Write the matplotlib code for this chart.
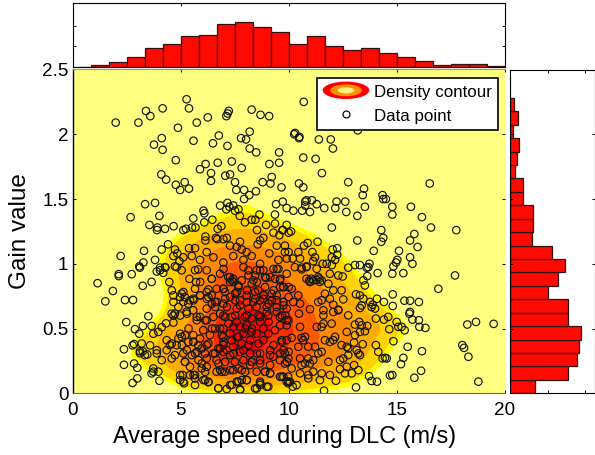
# plot.py
# speed / gain scatter with density contour and marginal histograms

import numpy as np
import matplotlib
matplotlib.use('Agg')
import matplotlib.pyplot as plt
from matplotlib.colors import ListedColormap, BoundaryNorm
from matplotlib.legend_handler import HandlerBase
from matplotlib.lines import Line2D
from matplotlib.patches import Ellipse

plt.rcParams['font.family'] = ['Liberation Sans', 'DejaVu Sans']

# -- points, by region (speed, gain)
points_top = [(2.0,2.09),(3.05,2.09),(3.4,2.18),(3.6,2.14),(4.17,2.2),(5.28,2.27),(5.39,2.2),(4.88,2.05),(5.75,2.09),
    (6.26,2.13),(7.23,2.18),(7.18,2.16),(7.12,2.14),(8.29,2.19),(8.7,2.15),(9.1,2.14),(10.7,2.25),(6.77,1.99),(8.2,2.02),
    (10.3,2.01),(10.5,1.98),(4.13,1.97),(5.6,1.95),(6.5,1.93),(7.8,1.97),(8.03,1.96),(11.4,1.96),(13.2,2.03),(11.95,1.96)]

points_upper_left = [(3.77,1.92),(4.17,1.88),(7.17,1.91),(8.2,1.89),(8.5,1.86),(9.56,1.86),(4.78,1.8),(6.16,1.77),(5.9,1.73),
    (6.72,1.78),(7.37,1.79),(7.83,1.74),(9.11,1.77),(9.56,1.78),(4.11,1.69),(4.33,1.65),(4.78,1.61),(5.19,1.63),(4.98,1.57),
    (5.39,1.58),(6.41,1.7),(6.41,1.64),(7.07,1.68),(7.29,1.69),(7.52,1.63),(7.58,1.57),(7.94,1.57),(8.18,1.53),(8.49,1.56),
    (7.94,1.5),(8.8,1.63),(9.16,1.62),(9.22,1.67),(9.67,1.59),(3.36,1.46),(3.82,1.47),(2.69,1.36),(4.02,1.37),(3.56,1.3),
    (3.93,1.28),(3.91,1.26),(4.28,1.27),(4.68,1.29),(6.06,1.41),(6.1,1.39),(5.59,1.35),(6.1,1.32),(6.47,1.34),(6.83,1.45),
    (7.17,1.47),(7.12,1.42),(7.44,1.45),(7.26,1.44),(7.68,1.42),(7.52,1.41),(7.74,1.37),(7.98,1.32),(8.65,1.38),(8.29,1.34),
    (8.46,1.34),(9.42,1.46),(9.73,1.48),(9.91,1.43),(9.37,1.38),(8.96,1.3),(9.37,1.31),(8.54,1.26),(9.3,1.24),(9.73,1.26),
    (10.0,1.24),(9.57,1.22),(5.25,1.27),(5.13,1.26),(5.53,1.28),(5.69,1.28),(6.72,1.27),(6.89,1.29),(6.15,1.21),(6.15,1.18),
    (6.64,1.2),(6.7,1.19),(6.98,1.19),(7.14,1.2),(7.75,1.17),(8.83,1.2),(8.68,1.18),(8.57,1.15),(4.42,1.15),(4.13,1.11),
    (3.31,1.1),(2.23,1.06),(3.82,1.03),(3.09,0.98),(3.28,1.01),(4.74,1.11),(4.85,1.08),(4.67,1.06),(5.13,1.05),(4.95,1.02),
    (5.39,1.12),(5.67,1.12),(5.52,1.06),(5.9,1.03),(6.21,1.09),(6.52,1.05),(6.98,1.01),(7.44,1.06),(7.83,1.11),(8.06,1.09),
    (8.29,1.06),(7.91,1.03),(8.68,1.0),(9.11,1.08),(9.45,1.14),(9.53,1.03),(10.0,1.09),(9.83,1.14),(7.29,1.14),(7.6,1.13),
    (4.05,0.97),(4.3,0.97),(4.74,0.98)]

points_upper_right = [(10.26,2.0),(10.48,1.97),(12.05,1.89),(10.68,1.82),(11.25,1.81),(11.54,1.7),(10.48,1.62),(10.68,1.59),
    (12.76,1.63),(13.49,1.58),(16.53,1.62),(13.43,1.53),(14.35,1.53),(14.38,1.5),(14.5,1.5),(10.22,1.41),(10.63,1.41),(10.99,1.4),
    (10.83,1.49),(10.77,1.48),(10.77,1.45),(11.08,1.49),(11.3,1.46),(11.65,1.43),(12.22,1.48),(12.16,1.43),(12.62,1.48),(12.67,1.4),
    (13.18,1.37),(13.53,1.44),(14.8,1.44),(14.8,1.38),(15.66,1.44),(16.17,1.36),(16.59,1.28),(17.76,1.26),(12.0,1.28),(14.29,1.26),
    (14.38,1.2),(14.29,1.17),(15.82,1.23),(15.62,1.18),(15.97,1.13),(13.18,1.18),(13.94,1.1),(15.11,1.1),(15.62,1.05),(15.73,1.0),
    (15.03,1.03),(14.97,1.01),(14.85,0.98),(11.34,1.17),(10.88,1.16),(10.71,1.14),(9.91,1.3),(9.72,1.26),(10.11,1.25),(12.25,1.12),
    (12.04,1.11),(12.25,1.07),(12.0,1.05),(12.15,1.03),(11.58,1.0),(11.76,1.0),(12.0,0.99),(11.1,1.09),(11.22,1.05),(11.14,1.02),
    (10.45,1.09),(10.53,1.04),(10.19,1.04),(9.83,1.09),(9.91,1.04),(12.76,0.97),(13.07,0.99),(13.3,0.99),(13.74,1.0),(13.61,0.97),
    (10.83,0.98),(10.6,0.97)]

points_lower_left = [(1.16,0.85),(1.87,0.79),(1.52,0.71),(2.43,0.72),(2.8,0.72),(2.14,0.92),(2.14,0.905),(2.74,0.92),(3.12,0.97),
    (3.25,0.83),(3.66,0.86),(2.49,0.55),(3.51,0.595),(2.89,0.495),(3.09,0.46),(3.26,0.52),(2.38,0.34),(2.78,0.37),(2.85,0.38),
    (3.2,0.385),(2.38,0.22),(2.85,0.23),(3.0,0.197),(3.0,0.115),(2.78,0.08),(3.12,0.31),(3.25,0.325),(3.35,0.295),(3.46,0.3),
    (3.12,0.325),(3.59,0.37),(3.74,0.46),(3.97,0.474),(3.66,0.52),(4.13,0.51),(4.33,0.54),(4.67,0.546),(4.74,0.615),(4.59,0.615),
    (4.98,0.6),(5.28,0.63),(4.9,0.666),(4.67,0.705),(4.67,0.756),(4.59,0.795),(5.05,0.77),(4.98,0.743),(5.2,0.743),(5.44,0.718),
    (5.36,0.692),(5.59,0.73),(5.13,0.782),(4.48,0.859),(3.9,0.94),(4.05,0.95),(4.2,0.93),(4.28,0.974),(4.82,0.974),(5.05,0.95),
    (5.67,0.95),(5.82,0.957),(6.21,0.95),(5.41,0.884),(5.72,0.859),(5.67,0.807),(6.29,0.802),(6.67,0.807),(5.9,0.756),(6.21,0.73),
    (6.44,0.756),(6.44,0.884),(5.59,0.641),(5.9,0.59),(5.75,0.564),(6.21,0.564),(6.52,0.59),(6.6,0.705),(6.6,0.666),(6.21,0.654),
    (4.98,0.46),(5.05,0.436),(4.9,0.423),(4.36,0.41),(4.51,0.372),(4.59,0.384),(4.82,0.372),(5.36,0.397),(5.59,0.397),(5.9,0.423),
    (6.21,0.372),(6.52,0.308),(6.75,0.346),(5.59,0.449),(5.82,0.372),(6.6,0.5),(6.36,0.449),(6.05,0.487),(3.9,0.308),(4.13,0.256),
    (4.59,0.269),(5.2,0.243),(5.75,0.32),(6.13,0.308),(5.52,0.295),(5.13,0.308),(4.74,0.295),(4.36,0.333),(3.9,0.333),(3.74,0.192),
    (3.97,0.167),(3.66,0.154),(3.74,0.167),(4.02,0.097),(4.98,0.102),(5.13,0.09),(5.16,0.077),(5.67,0.141),(5.67,0.115),(5.44,0.141),
    (5.67,0.064),(6.06,0.102),(6.29,0.085),(4.98,0.141),(6.21,0.205),(5.98,0.23),(6.67,0.167),(4.67,0.6),(5.21,0.449),(5.06,0.372),
    (5.6,0.397),(5.29,0.333),(5.67,0.308),(5.98,0.346),(6.29,0.384),(6.21,0.269),(5.83,0.256),(5.21,0.243),(5.44,0.205),(5.98,0.192),
    (6.14,0.166),(5.1,0.141),(5.6,0.141),(6.14,0.102),(6.29,0.09),(5.91,0.859),(6.45,0.884),(6.21,0.782),(6.29,0.743),(6.45,0.692),
    (6.14,0.564),(5.75,0.59),(5.29,0.615),(5.13,0.705),(5.6,0.718),(5.91,0.756),(6.45,0.5),(5.37,0.5)]

points_centre = [(6.83,0.923),(7.21,0.897),(7.44,0.884),(7.29,0.859),(7.68,0.82),(7.83,0.872),(8.14,0.91),(8.52,0.95),(8.83,0.95),
    (8.91,0.897),(9.37,0.884),(9.6,0.872),(9.91,0.923),(9.3,0.96),(9.53,0.96),(8.29,0.846),(8.6,0.795),(8.91,0.82),(9.3,0.795),
    (9.45,0.756),(9.76,0.82),(10.0,0.743),(9.76,0.705),(9.22,0.718),(8.83,0.73),(8.45,0.73),(8.06,0.756),(7.52,0.77),(7.06,0.782),
    (6.98,0.807),(7.29,0.743),(7.75,0.718),(6.98,0.692),(7.14,0.666),(7.6,0.654),(8.14,0.654),(8.52,0.666),(8.99,0.666),(9.45,0.666),
    (9.91,0.654),(6.83,0.615),(6.98,0.6),(7.37,0.59),(7.98,0.59),(8.29,0.577),(8.68,0.59),(9.06,0.6),(9.6,0.59),(9.91,0.564),
    (6.98,0.372),(6.98,0.436),(6.98,0.5),(7.29,0.461),(7.44,0.513),(7.6,0.436),(7.75,0.513),(7.91,0.461),(8.06,0.525),(8.29,0.474),
    (8.52,0.461),(8.83,0.5),(9.06,0.461),(9.37,0.487),(9.68,0.41),(9.91,0.41),(9.76,0.333),(10.0,0.32),(9.3,0.372),(8.83,0.41),
    (8.6,0.384),(8.22,0.41),(7.83,0.384),(7.44,0.359),(7.14,0.333),(7.29,0.295),(7.75,0.32),(8.22,0.308),(8.68,0.308),(9.14,0.295),
    (9.6,0.256),(9.14,0.218),(8.68,0.256),(8.29,0.243),(7.91,0.256),(7.52,0.243),(7.06,0.243),(6.67,0.256),(6.83,0.179),(7.06,0.167),
    (7.44,0.179),(7.83,0.179),(8.22,0.218),(8.52,0.167),(8.91,0.167),(9.14,0.154),(9.6,0.128),(9.98,0.128),(9.98,0.077),(9.06,0.051),
    (8.68,0.09),(8.68,0.064),(8.45,0.038),(8.06,0.102),(7.83,0.102),(7.6,0.09),(7.37,0.064),(7.75,0.031),(7.14,0.033),(6.75,0.038),
    (6.98,0.32),(6.99,0.96),(7.37,0.872),(7.68,0.833),(7.29,0.897),(7.45,0.859),(8.37,0.872),(8.53,0.859),(8.45,0.91),(8.96,0.89),
    (9.15,0.897),(9.61,0.884),(7.91,0.974),(8.14,0.949),(8.68,0.949),(9.45,0.961),(10.0,0.82),(9.61,0.82),(9.22,0.769),(8.84,0.756),
    (8.45,0.782),(8.07,0.795),(7.6,0.782),(6.99,0.807),(6.68,0.705),(7.06,0.73),(7.53,0.718),(7.76,0.679),(8.07,0.705),(8.37,0.705),
    (8.68,0.718),(9.07,0.692),(9.45,0.718),(9.76,0.679),(9.84,0.602),(9.45,0.628),(8.99,0.628),(8.61,0.602),(8.07,0.602),(7.53,0.602),
    (7.06,0.59),(7.99,0.5),(8.3,0.5),(8.68,0.551),(9.07,0.551),(9.61,0.525),(7.6,0.551),(7.22,0.538),(6.83,0.5),(6.6,0.308),
    (6.83,0.346),(6.99,0.397),(6.91,0.449),(7.37,0.41),(7.68,0.436),(8.14,0.372),(7.91,0.333),(7.45,0.308),(6.75,0.23),(6.91,0.166),
    (7.29,0.179),(7.68,0.192),(7.99,0.166),(8.3,0.243),(8.68,0.23),(8.91,0.166),(9.15,0.154),(8.53,0.308),(9.15,0.333),(9.3,0.282),
    (9.61,0.308),(9.69,0.397),(9.92,0.243),(9.76,0.128),(10.0,0.09),(8.07,0.102),(7.68,0.09),(7.29,0.064),(6.75,0.038),(7.76,0.025),
    (8.53,0.038),(8.68,0.077),(8.99,0.051)]

points_lower_right = [(14.12,0.928),(14.8,0.923),(15.31,0.928),(17.7,0.91),(16.93,0.807),(14.82,0.764),(15.36,0.715),(15.62,0.715),
    (16.03,0.705),(15.62,0.628),(15.59,0.615),(15.73,0.569),(16.03,0.564),(16.05,0.513),(16.33,0.505),(15.37,0.487),(15.23,0.513),
    (15.08,0.513),(15.0,0.551),(14.66,0.495),(14.61,0.59),(14.41,0.569),(14.04,0.577),(14.82,0.674),(14.41,0.705),(14.09,0.73),
    (18.27,0.531),(18.67,0.551),(19.49,0.536),(14.85,0.402),(15.51,0.359),(16.17,0.325),(18.04,0.372),(18.12,0.351),(18.32,0.282),
    (15.31,0.274),(15.2,0.225),(16.13,0.174),(15.82,0.12),(14.8,0.141),(14.69,0.138),(18.78,0.09),(14.09,0.09),(13.84,0.095),
    (13.72,0.133),(14.04,0.372),(14.15,0.32),(14.35,0.269),(14.54,0.269),(14.46,0.274),(13.12,0.046),(11.64,0.02),(10.37,0.064),
    (10.19,0.051),(10.06,0.09),(12.19,0.097),(11.91,0.141),(11.45,0.102),(12.92,0.154),(13.23,0.179),(13.03,0.218),(12.69,0.205),
    (12.61,0.154),(12.38,0.187),(12.53,0.269),(12.76,0.295),(13.23,0.308),(13.3,0.295),(13.15,0.333),(13.43,0.379),(13.03,0.392),
    (12.76,0.346),(13.07,0.449),(13.3,0.474),(13.53,0.479),(13.38,0.525),(13.64,0.52),(13.27,0.551),(13.07,0.531),(12.69,0.474),
    (12.76,0.602),(12.3,0.646),(12.07,0.684),(11.91,0.73),(12.45,0.795),(12.53,0.725),(12.07,0.795),(11.68,0.769),(11.53,0.718),
    (11.37,0.705),(10.99,0.649),(10.53,0.692),(10.22,0.705),(10.45,0.756),(9.75,0.82),(10.14,0.807),(10.83,0.884),(10.99,0.859),
    (11.14,0.872),(11.37,0.897),(11.53,0.872),(11.84,0.846),(12.3,0.91),(12.5,0.902),(11.91,0.923),(11.3,0.961),(10.83,0.974),
    (10.6,0.957),(10.29,0.974),(13.46,0.872),(13.64,0.905),(13.53,0.833),(13.69,0.974),(13.12,0.764),(13.3,0.756),(13.38,0.679),
    (13.77,0.705),(13.89,0.684),(13.84,0.666),(14.0,0.654),(13.46,0.73),(13.3,0.659),(11.61,0.641),(11.61,0.602),(12.07,0.628),
    (12.3,0.641),(11.99,0.538),(11.61,0.538),(11.3,0.513),(11.53,0.513),(10.53,0.513),(10.48,0.615),(9.75,0.705),(9.68,0.602),
    (9.99,0.564),(9.91,0.525),(10.14,0.428),(10.6,0.428),(10.76,0.436),(10.68,0.41),(10.45,0.359),(10.91,0.359),(11.22,0.359),
    (11.53,0.32),(11.37,0.308),(11.68,0.41),(11.91,0.397),(12.07,0.41),(12.15,0.436),(11.84,0.243),(10.91,0.269),(11.14,0.256),
    (10.76,0.23),(10.53,0.269),(10.6,0.218),(10.99,0.23),(9.99,0.269),(9.83,0.308),(9.83,0.23),(10.14,0.192),(10.53,0.154),
    (10.91,0.141),(11.14,0.167),(10.91,0.115),(11.53,0.154),(12.38,0.256),(12.69,0.359),(12.45,0.372),(9.68,0.128),(9.91,0.09),
    (11.42,0.885),(11.45,0.86),(10.95,0.87),(11.05,0.885),(11.28,0.875)]

density_speed = np.arange(0, 21)
density_gain = np.arange(0, 14) * 0.125
d_000 = [0,0,0,0,0,0.6,0.7,0.8,0.9,0.9,0.8,0.7,0.6,0.5,0.2,0,0,0,0,0,0]
d_012 = [0,0,0,0.2,1.0,1.9,2.6,3.2,3.4,3.2,2.8,2.4,2.0,1.4,0.7,0.1,0,0,0,0,0]
d_025 = [0,0,0.3,1.4,1.9,2.9,3.9,5.2,5.8,5.2,4.3,3.5,3.0,2.3,1.4,0.6,0.1,0,0,0,0]
d_037 = [0,0,0.3,1.4,2.1,2.7,3.9,5.5,6.4,5.7,4.7,4.0,3.3,2.7,1.7,0.8,0.2,0,0,0,0]
d_050 = [0,0,0.1,0.6,1.7,2.6,3.8,5.6,6.8,6.0,4.9,3.9,3.3,2.9,2.2,1.6,0.7,0.1,0,0,0]
d_062 = [0,0,0,0.1,0.8,2.2,3.4,5.0,6.0,5.7,4.8,3.8,3.1,2.5,1.6,0.9,0.2,0,0,0,0]
d_075 = [0,0,0,0,0.6,2.0,3.0,4.5,5.3,5.0,4.2,3.4,2.7,1.9,1.0,0.3,0,0,0,0,0]
d_087 = [0,0,0,0.2,0.9,2.0,3.0,4.2,4.6,4.3,3.6,2.9,2.2,1.4,0.5,0,0,0,0,0,0]
d_100 = [0,0,0,0.1,1.1,2.0,3.0,3.8,3.9,3.6,3.0,2.4,1.7,0.9,0.2,0,0,0,0,0,0]
d_112 = [0,0,0,0,0.9,1.7,2.5,2.9,3.0,2.8,2.3,1.7,1.0,0.4,0,0,0,0,0,0,0]
d_125 = [0,0,0,0,0.2,0.9,1.5,1.9,2.0,1.8,1.4,0.9,0.4,0.1,0,0,0,0,0,0,0]
d_137 = [0,0,0,0,0,0.1,0.6,1.1,1.4,1.0,0.6,0.3,0,0,0,0,0,0,0,0,0]
d_150 = [0,0,0,0,0,0,0,0.7,0.95,0.4,0,0,0,0,0,0,0,0,0,0,0]
d_162 = [0]*21

# -- marginal histograms
speed_counts = [0,4,10,24,44,54,74,77,104,109,96,85,54,74,49,40,44,32,24,13,3,5,5,2]
gain_counts = [33,77,89,92,95,77,77,51,64,73,56,29,31,31,17,17,7,9,12,4,11,5]
gain_hist_top = 2.28

speed_ticks = [0, 5, 10, 15, 20]
gain_ticks = [0, 0.5, 1, 1.5, 2, 2.5]
gain_ticklabels = ['0', '0.5', '1', '1.5', '2', '2.5']
count_ticks = [50, 100]

band_levels = [-50, 1, 1.25, 1.9, 2.8, 3.7, 4.7, 5.7, 50]
band_colors = ['#FFFF80', '#FFFF00', '#FFD400', '#FFAE00', '#FF8A00', '#FF5A00', '#FF2C00', '#FF0000']
bar_red = '#FF0A00'


class HandlerDensity(HandlerBase):
    # legend key: three nested ellipses, like a small contour
    def create_artists(self, legend, orig_handle, xdescent, ydescent, width, height, fontsize, trans):
        cx = width / 2 - xdescent
        cy = height / 2 - ydescent + 1
        arts = []
        for frac, col in zip([1.0, 0.68, 0.36], ['#FF0000', '#FF9000', '#FFF080']):
            arts.append(Ellipse((cx, cy), width * frac, 12.5 * frac, facecolor=col, edgecolor='none', transform=trans))
        return arts


W, H = 595.0, 455.0
def box(left, top, right, bottom):
    return [left / W, 1 - bottom / H, (right - left) / W, (bottom - top) / H]

fig = plt.figure(figsize=(5.95, 4.55), dpi=100)
ax = fig.add_axes(box(72.5, 69.5, 504.7, 393.3))
ax_top = fig.add_axes(box(72.5, 3.4, 504.7, 66.5))
ax_right = fig.add_axes(box(510, 70, 595, 393.3))

# density bands
density = np.array([d_000, d_012, d_025, d_037, d_050, d_062, d_075, d_087, d_100, d_112, d_125, d_137, d_150, d_162])
ax.set_facecolor(band_colors[0])
ax.imshow(density, origin='lower', aspect='auto', interpolation='bicubic', interpolation_stage='data',
          extent=[density_speed[0]-0.5, density_speed[-1]+0.5, density_gain[0]-0.0625, density_gain[-1]+0.0625],
          cmap=ListedColormap(band_colors), norm=BoundaryNorm(band_levels, len(band_colors)), zorder=1)

# scatter
all_points = np.array(points_top + points_upper_left + points_upper_right + points_lower_left + points_centre + points_lower_right)
ax.scatter(all_points[:,0], all_points[:,1], s=29, facecolors='none', edgecolors='#151515', linewidths=0.85, zorder=3)

ax.set_xlim(0, 20)
ax.set_ylim(0, 2.5)
ax.set_xticks(speed_ticks)
ax.set_yticks(gain_ticks)
ax.set_yticklabels(gain_ticklabels)
ax.tick_params(direction='in', length=2.2, width=0.7, top=True, right=True, labelsize=13.6, pad=3)
ax.tick_params(axis='x', pad=6.5)
ax.spines['left'].set_color('black')
ax.spines['left'].set_linewidth(1.0)
ax.spines['bottom'].set_color('#8a6a00')
ax.spines['top'].set_color('#b89a20')
ax.spines['right'].set_visible(False)
ax.set_xlabel('Average speed during DLC (m/s)', fontsize=16.9)
ax.xaxis.set_label_coords(0.4917, -0.132, transform=ax.transAxes)
ax.xaxis.label.set_verticalalignment('center')
ax.set_ylabel('Gain value', fontsize=17.5, labelpad=8)

handles = [Line2D([], [], label='Density contour'),
           Line2D([], [], linestyle='none', marker='o', markersize=5, markerfacecolor='none',
                  markeredgecolor='black', markeredgewidth=0.85, label='Data point')]
leg = ax.legend(handles=handles, handler_map={handles[0]: HandlerDensity()}, loc='upper left',
                bbox_to_anchor=((316.6-72.5)/432.2, 1-(78-69.5)/323.8), borderaxespad=0, fontsize=12.2,
                handlelength=2.75, handleheight=1.0, handletextpad=0.3, labelspacing=0.42, borderpad=0.36,
                fancybox=False, framealpha=1, edgecolor='black')
leg.get_frame().set_linewidth(1.2)
leg.set_zorder(5)

# histogram above
speed_edges = np.linspace(0, 20, len(speed_counts)+1)
ax_top.bar(speed_edges[:-1], speed_counts, width=np.diff(speed_edges), align='edge', color=bar_red, edgecolor='#301010', linewidth=0.9)
ax_top.set_xlim(0, 20)
ax_top.set_ylim(0, 154)
ax_top.set_xticks(speed_ticks)
ax_top.set_yticks(count_ticks)
ax_top.tick_params(direction='in', length=2.2, width=0.7, top=True, right=True, labelbottom=False, labelleft=False)

# histogram at the right
gain_edges = np.linspace(0, gain_hist_top, len(gain_counts)+1)
ax_right.barh(gain_edges[:-1], gain_counts, height=np.diff(gain_edges), align='edge', color=bar_red, edgecolor='#301010', linewidth=0.9)
ax_right.set_ylim(0, 2.495)
ax_right.set_xlim(0, 113.3)
ax_right.set_xticks(count_ticks)
ax_right.set_yticks(gain_ticks[:-1])
ax_right.tick_params(direction='in', length=2.2, width=0.7, top=True, right=True, labelbottom=False, labelleft=False)

fig.savefig('out.png', dpi=100)
